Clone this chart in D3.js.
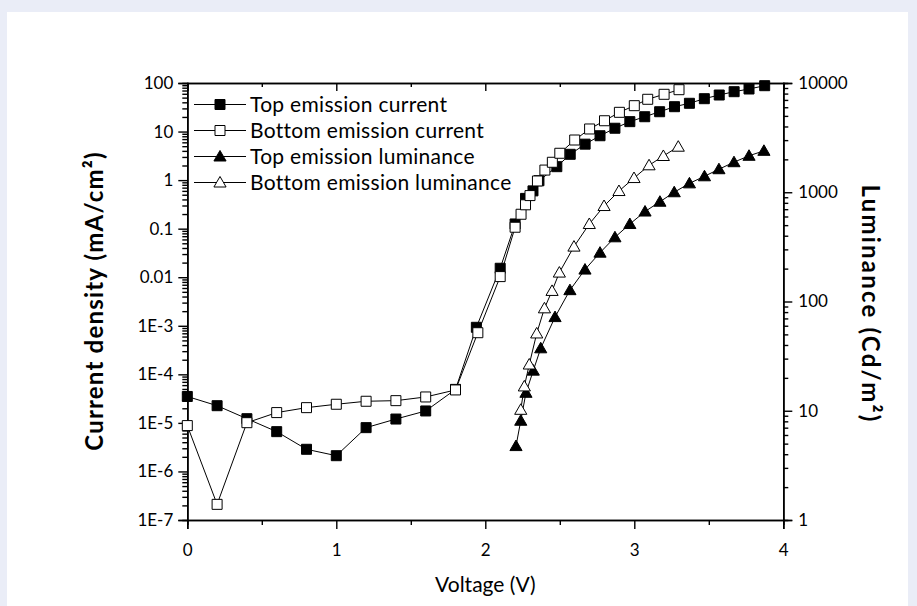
<html>
<head>
<meta charset="utf-8">
<style>
  body { margin: 0; background: #eaedf7; }
  text { font-family: Lato, "Open Sans", sans-serif; fill: #000; }
</style>
</head>
<body>
<svg id="container" width="917" height="606"></svg>
<script src="https://cdn.jsdelivr.net/npm/d3@7"></script>
<script>
// Top emission current (mA/cm2)
const topCurV = [0, 0.2, 0.4, 0.6, 0.8, 1.0, 1.2, 1.4, 1.6, 1.8, 1.94, 2.10, 2.20, 2.27, 2.32, 2.36, 2.48, 2.57, 2.67, 2.77, 2.87, 2.97, 3.07, 3.17, 3.27, 3.37, 3.47, 3.57, 3.67, 3.77, 3.875]
const topCurJ = [3.5e-5, 2.26e-5, 1.22e-5, 6.6e-6, 2.86e-6, 2.11e-6, 7.98e-6, 1.2e-5, 1.76e-5, 4.9e-5, 9.3e-4, 0.0153, 0.125, 0.42, 0.6, 0.97, 1.89, 3.4, 5.5, 8.2, 11.7, 16, 20.2, 25.6, 32.5, 38.2, 47.5, 56.6, 66.2, 75.2, 88]

// Bottom emission current (mA/cm2)
const botCurV = [0, 0.2, 0.4, 0.6, 0.8, 1.0, 1.2, 1.4, 1.6, 1.8, 1.95, 2.10, 2.2, 2.24, 2.27, 2.30, 2.35, 2.40, 2.45, 2.50, 2.60, 2.70, 2.80, 2.90, 3.00, 3.09, 3.20, 3.30]
const botCurJ = [8.8e-6, 2.1e-7, 1.01e-5, 1.63e-5, 2.06e-5, 2.42e-5, 2.79e-5, 2.87e-5, 3.42e-5, 4.77e-5, 7.2e-4, 0.0103, 0.107, 0.198, 0.31, 0.48, 0.96, 1.61, 2.33, 3.57, 6.7, 11.3, 16.7, 24.9, 34.1, 46.2, 58.5, 72.8]

// Top emission luminance (Cd/m2)
const topLumV = [2.206, 2.238, 2.273, 2.322, 2.372, 2.468, 2.568, 2.669, 2.77, 2.87, 2.97, 3.072, 3.172, 3.268, 3.37, 3.471, 3.568, 3.669, 3.77, 3.87]
const topLumL = [4.75, 8.1, 14.6, 23.3, 37.3, 72, 127, 196, 280, 387, 512, 666, 819, 1000, 1206, 1400, 1625, 1884, 2157, 2394]

// Bottom emission luminance (Cd/m2)
const botLumV = [2.238, 2.262, 2.295, 2.345, 2.397, 2.448, 2.497, 2.595, 2.698, 2.797, 2.897, 2.998, 3.099, 3.195, 3.295]
const botLumL = [10.2, 16.7, 26.5, 51, 86.6, 125, 184, 318, 512, 748, 1026, 1349, 1765, 2147, 2612]

const xTicks = [0, 1, 2, 3, 4]
const xMinor = [0.5, 1.5, 2.5, 3.5]
const leftTicks = [100, 10, 1, 0.1, 0.01, 1e-3, 1e-4, 1e-5, 1e-6, 1e-7]
const leftLabels = ["100", "10", "1", "0.1", "0.01", "1E-3", "1E-4", "1E-5", "1E-6", "1E-7"]
const rightTicks = [10000, 1000, 100, 10, 1]
const rightLabels = ["10000", "1000", "100", "10", "1"]

const legendNames = ["Top emission current", "Bottom emission current", "Top emission luminance", "Bottom emission luminance"]

let svg = d3.select("#container")
svg.append("rect").attr("x", 7).attr("y", 12).attr("width", 901).attr("height", 600).attr("fill", "#fff")

let plotLeft = 187.3, plotRight = 783.3, plotTop = 83, plotBottom = 520

let x = d3.scaleLinear().domain([0, 4]).range([plotLeft, plotRight])
let yL = d3.scaleLog().domain([1e-7, 100]).range([plotBottom, plotTop])
let yR = d3.scaleLog().domain([1, 10000]).range([plotBottom, plotTop])

function minorOf(lo, hi) {
    let out = []
    for (let e = lo; e < hi; e++)
        for (let k = 2; k <= 9; k++) out.push(k * Math.pow(10, e))
    return out
}

function styleAxis(g) {
    g.select(".domain").attr("stroke", "#000").attr("stroke-width", 1.6)
    g.selectAll(".tick line").attr("stroke", "#000").attr("stroke-width", 1.4)
    g.selectAll("text").attr("font-size", 17).attr("font-family", "Lato, sans-serif")
}

// bottom axis
svg.append("g").attr("transform", `translate(0,${plotBottom})`)
    .call(d3.axisBottom(x).tickValues(xMinor).tickSize(5).tickFormat(""))
    .call(styleAxis)
svg.append("g").attr("transform", `translate(0,${plotBottom})`)
    .call(d3.axisBottom(x).tickValues(xTicks).tickSize(9).tickPadding(15).tickFormat(d3.format("d")))
    .call(styleAxis)

// top axis (inward ticks)
svg.append("g").attr("transform", `translate(0,${plotTop})`)
    .call(d3.axisTop(x).tickValues(xMinor).tickSize(-4).tickFormat(""))
    .call(styleAxis)
svg.append("g").attr("transform", `translate(0,${plotTop})`)
    .call(d3.axisTop(x).tickValues(xTicks).tickSize(-8).tickFormat(""))
    .call(styleAxis)

// left axis
svg.append("g").attr("transform", `translate(${plotLeft},0)`)
    .call(d3.axisLeft(yL).tickValues(minorOf(-7, 2)).tickSize(5).tickFormat(""))
    .call(styleAxis)
svg.append("g").attr("transform", `translate(${plotLeft},0)`)
    .call(d3.axisLeft(yL).tickValues(leftTicks).tickSize(9).tickPadding(5)
        .tickFormat((d, i) => leftLabels[i]))
    .call(styleAxis)

// right axis
svg.append("g").attr("transform", `translate(${plotRight},0)`)
    .call(d3.axisRight(yR).tickValues(minorOf(0, 4)).tickSize(5).tickFormat(""))
    .call(styleAxis)
svg.append("g").attr("transform", `translate(${plotRight},0)`)
    .call(d3.axisRight(yR).tickValues(rightTicks).tickSize(9).tickPadding(6)
        .tickFormat((d, i) => rightLabels[i]))
    .call(styleAxis)

// axis titles
svg.append("text").attr("x", (plotLeft + plotRight) / 2).attr("y", 592)
    .attr("text-anchor", "middle").attr("font-size", 21).text("Voltage (V)")
svg.append("text").attr("transform", "translate(103,301) rotate(-90)")
    .attr("text-anchor", "middle").attr("font-size", 24).attr("font-weight", "bold")
    .attr("letter-spacing", 1.2)
    .text("Current density (mA/cm²)")
svg.append("text").attr("transform", "translate(862,304) rotate(90)")
    .attr("text-anchor", "middle").attr("font-size", 24).attr("font-weight", "bold")
    .attr("letter-spacing", 2.2)
    .text("Luminance (Cd/m²)")

// markers
const sq = d3.symbol().type(d3.symbolSquare).size(100)
const tri = d3.symbol().type(d3.symbolTriangle).size(64)

let series = [
    { vs: topCurV, ys: topCurJ, scale: yL, shape: sq, fill: "#000" },
    { vs: botCurV, ys: botCurJ, scale: yL, shape: sq, fill: "#fff" },
    { vs: topLumV, ys: topLumL, scale: yR, shape: tri, fill: "#000" },
    { vs: botLumV, ys: botLumL, scale: yR, shape: tri, fill: "#fff" }
]

let line = d3.line()

for (let s of series) {
    let pts = s.vs.map((v, i) => [x(v), s.scale(s.ys[i])])
    svg.append("path").attr("d", line(pts))
        .attr("fill", "none").attr("stroke", "#000").attr("stroke-width", 1)
    svg.append("g").selectAll("path")
        .data(pts)
        .enter().append("path")
        .attr("d", s.shape)
        .attr("transform", d => `translate(${d[0]},${d[1] + (s.shape === tri ? 1 : 0)})`)
        .attr("fill", s.fill)
        .attr("stroke", "#000")
        .attr("stroke-width", 1)
}

// legend
let legend = svg.append("g")
legendNames.forEach((name, i) => {
    let yy = 104.5 + i * 26
    legend.append("line").attr("x1", 194).attr("x2", 246).attr("y1", yy).attr("y2", yy)
        .attr("stroke", "#000").attr("stroke-width", 1)
    legend.append("path").attr("d", series[i].shape)
        .attr("transform", `translate(220,${yy + (i > 1 ? 1 : 0)})`)
        .attr("fill", series[i].fill).attr("stroke", "#000").attr("stroke-width", 1)
    legend.append("text").attr("x", 250).attr("y", yy + 7)
        .attr("font-size", 21).attr("letter-spacing", 0.3).text(name)
})
</script>
</body>
</html>
